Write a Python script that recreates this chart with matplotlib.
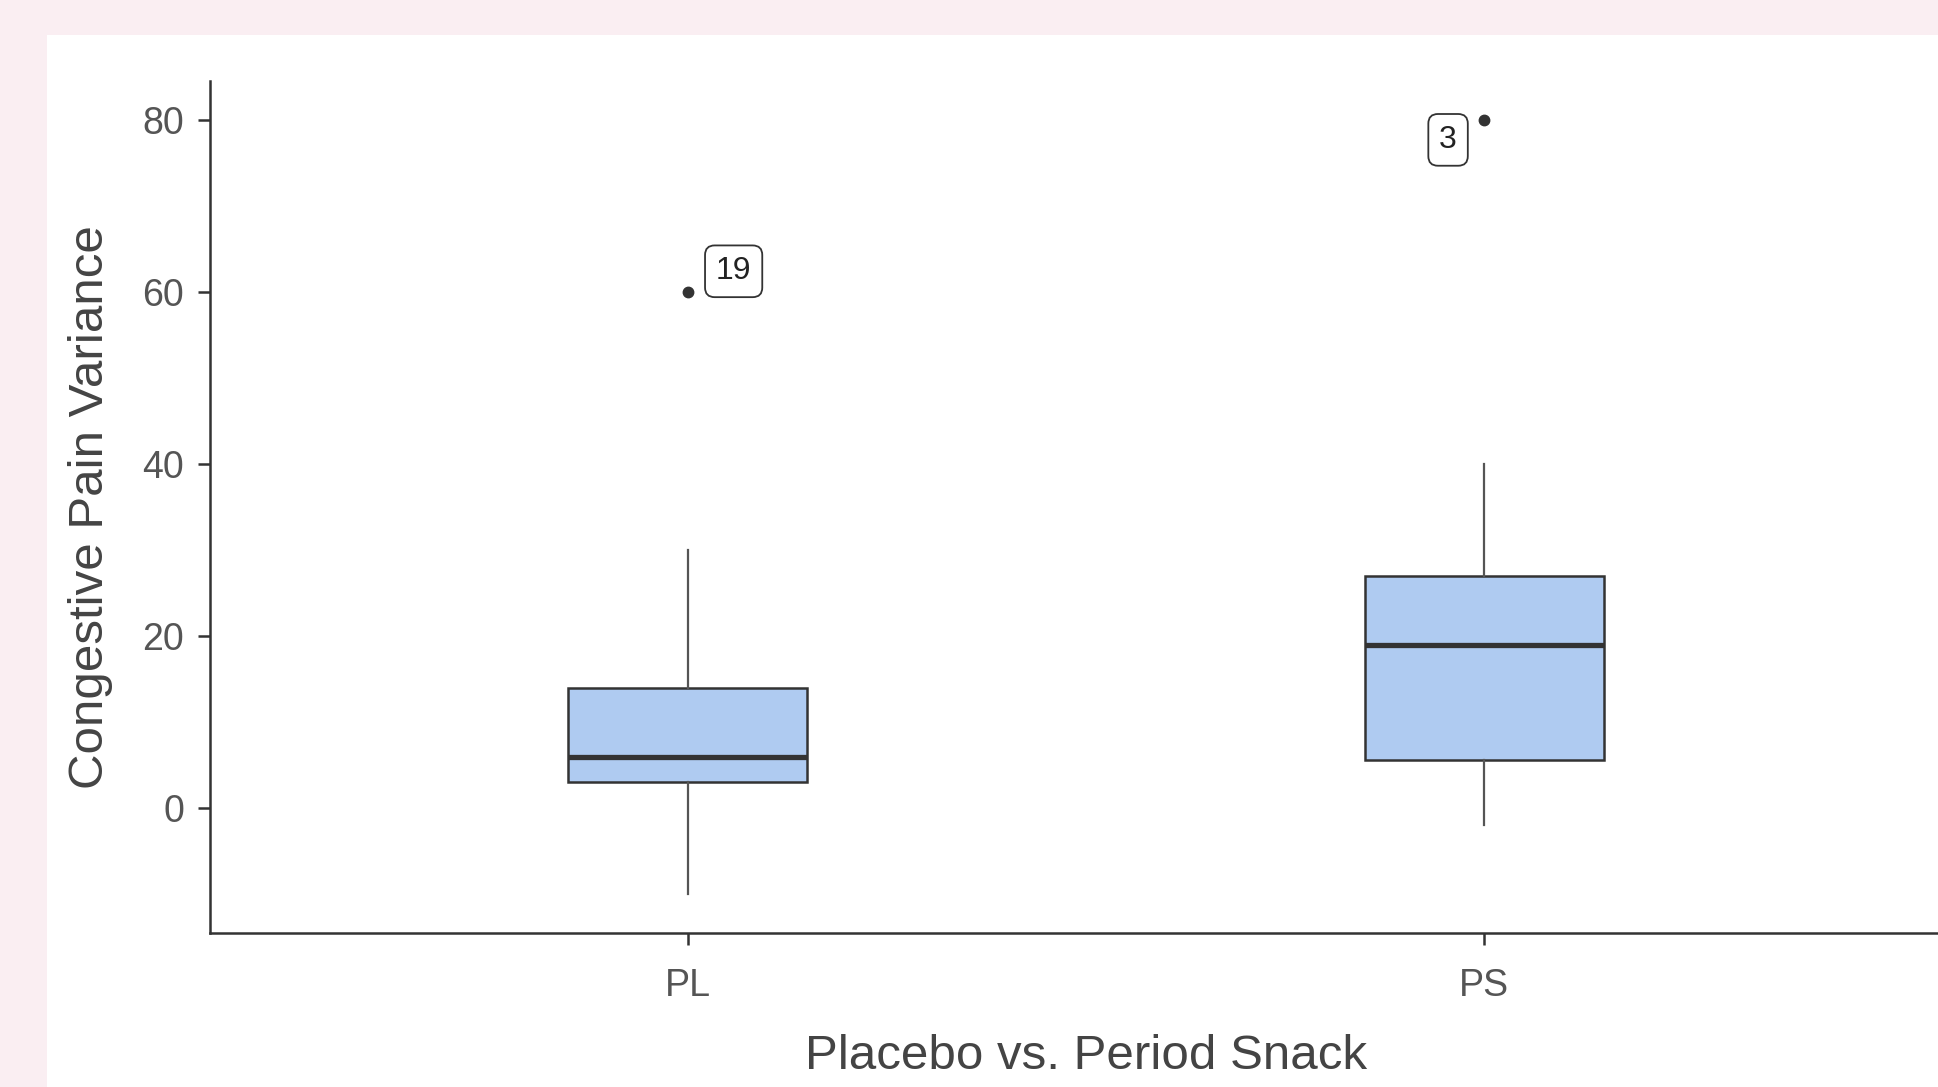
import matplotlib
matplotlib.use("Agg")
import matplotlib.pyplot as plt
from matplotlib.patches import Rectangle

# ---- data ----
categories = ["PL", "PS"]
q1 = [3.0, 5.6]
medians = [6.0, 19.0]
q3 = [14.0, 27.0]
whisker_low = [-10.0, -2.0]
whisker_high = [30.0, 40.0]
outliers = [[60.0], [80.0]]
outlier_labels = [["19"], ["3"]]
y_ticks = [0, 20, 40, 60, 80]
x_label = "Placebo vs. Period Snack"
y_label = "Congestive Pain Variance"

plt.rcParams["font.family"] = ["Liberation Sans", "DejaVu Sans"]

W, H, DPI = 1938, 1087, 100
fig = plt.figure(figsize=(W / DPI, H / DPI), dpi=DPI)
fig.patch.set_facecolor("#FAEEF2")
fig.add_artist(Rectangle((47 / W, 0), 1 - 47 / W, 1 - 35 / H,
                         transform=fig.transFigure, facecolor="white",
                         edgecolor="none", zorder=0))

left, right = 210 / W, 1962 / W
bottom, top = 1 - 933 / H, 1 - 81 / H
ax = fig.add_axes([left, bottom, right - left, top - bottom])
ax.set_facecolor("none")

stats = []
for i, c in enumerate(categories):
    stats.append(dict(label=c, q1=q1[i], med=medians[i], q3=q3[i],
                      whislo=whisker_low[i], whishi=whisker_high[i],
                      fliers=outliers[i]))

positions = list(range(len(categories)))
ax.bxp(stats, positions=positions, widths=0.3, patch_artist=True,
       showcaps=False,
       boxprops=dict(facecolor="#AFCBF1", edgecolor="#333333", linewidth=1.8),
       medianprops=dict(color="#333333", linewidth=3.8, solid_capstyle="butt"),
       whiskerprops=dict(color="#555555", linewidth=1.6),
       flierprops=dict(marker="o", markerfacecolor="#333333",
                       markeredgecolor="#333333", markersize=7.5))

offsets = [(33, 14.8), (-26, -14.5)]
for i, (vals, labs) in enumerate(zip(outliers, outlier_labels)):
    for v, lab in zip(vals, labs):
        ax.annotate(lab, xy=(positions[i], v), xytext=offsets[i],
                    textcoords="offset points", ha="center", va="center",
                    fontsize=23, color="#222222",
                    bbox=dict(boxstyle="round,pad=0.34,rounding_size=0.3",
                              facecolor="white", edgecolor="#333333",
                              linewidth=1.3))

ax.set_xlim(-0.6, 1.6)
ax.set_ylim(-14.5, 84.5)
ax.set_xticks(positions)
ax.set_xticklabels(categories)
ax.set_yticks(y_ticks)

for s in ["top", "right"]:
    ax.spines[s].set_visible(False)
for s in ["left", "bottom"]:
    ax.spines[s].set_color("#333333")
    ax.spines[s].set_linewidth(1.8)

ax.tick_params(axis="both", length=8.5, width=1.8, color="#333333",
               labelsize=27, labelcolor="#555555", pad=10)
ax.tick_params(axis="x", pad=16.5)

ax.set_xlabel(x_label, fontsize=35.5, color="#444444", labelpad=22)
ax.set_ylabel(y_label, fontsize=35.5, color="#444444", labelpad=21)

fig.savefig("out.png", dpi=DPI)
